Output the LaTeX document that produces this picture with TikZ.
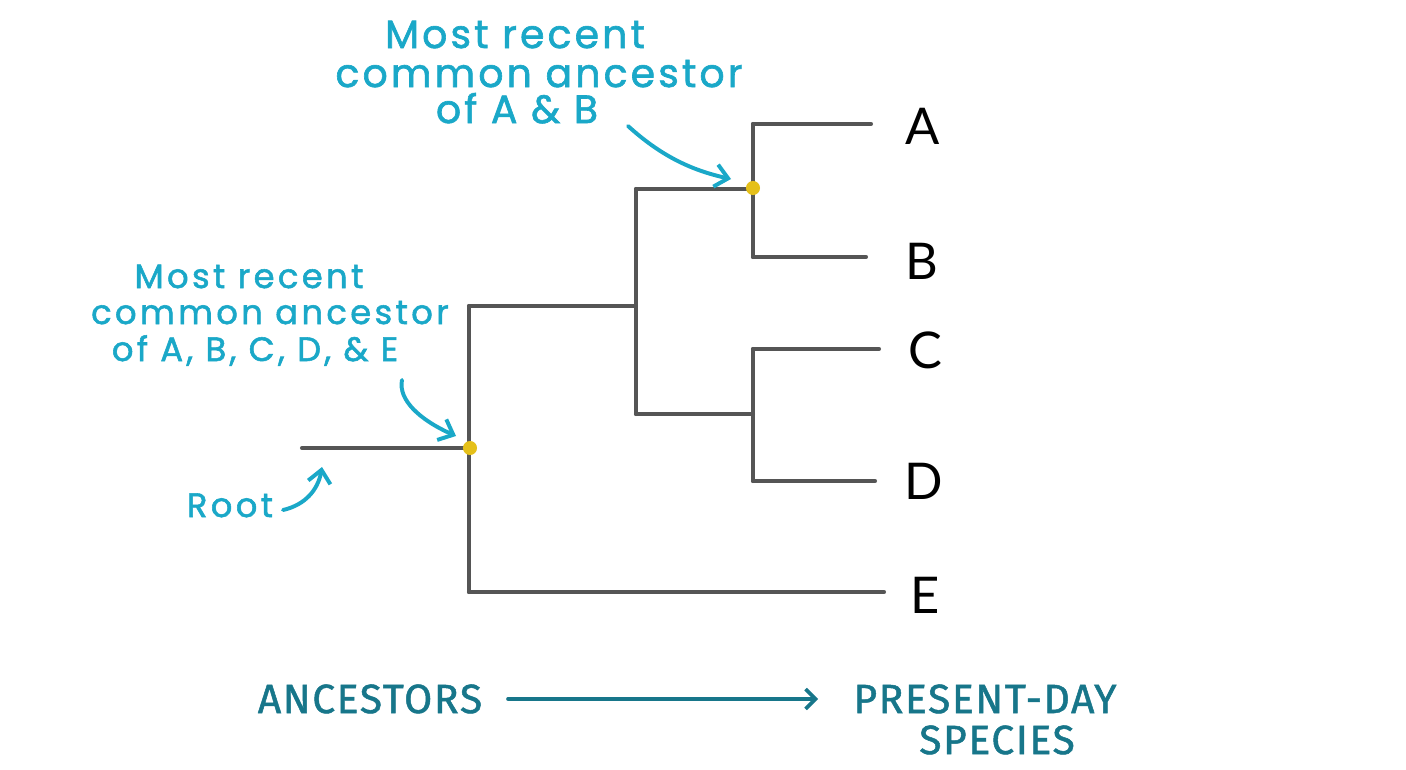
\documentclass[tikz,border=0pt]{standalone}
\usepackage{fontspec}
\setmainfont{Lato}
\newfontfamily\hand[LetterSpace=10,FakeBold=1.6]{Poppins}
\newfontfamily\handb[LetterSpace=8,FakeBold=1.6]{Poppins}
\newfontfamily\capsfont[LetterSpace=4,FakeBold=1.2]{Fira Sans}
\usetikzlibrary{arrows.meta}
\definecolor{tree}{HTML}{555555}
\definecolor{cyanh}{HTML}{1AA8C8}
\definecolor{tealh}{HTML}{17768A}
\definecolor{dotc}{HTML}{E5C01A}
\tikzset{
  branch/.style={draw=tree, line width=2.9pt, line cap=round, line join=miter},
  callout/.style={draw=cyanh, line width=2.8pt, line cap=round, -{Straight Barb[length=9pt,width=16pt,line width=2.8pt]}},
  handline/.style={text=cyanh, anchor=base, inner sep=0pt, text height=0.7em, text depth=0.1em},
  handbig/.style={handline, font=\handb\fontsize{28}{30}\selectfont},
  handsmall/.style={handline, font=\hand\fontsize{24}{26}\selectfont},
  leaf/.style={text=black, font=\fontsize{36}{40}\selectfont, inner sep=0pt},
  axis/.style={text=tealh, font=\capsfont\fontsize{29}{27}\selectfont, anchor=base, inner sep=0pt, text height=0.7em, text depth=0.05em},
  mrca/.style={circle, fill=dotc, inner sep=0pt, minimum size=10pt}
}
\begin{document}
\begin{tikzpicture}[x=0.025cm,y=-0.025cm]
\useasboundingbox[fill=white] (0,0) rectangle (1406,769);
% coordinates
\coordinate (r0) at (302,448);
\coordinate (r1) at (469,448);
\coordinate (n1t) at (469,306);
\coordinate (n1b) at (469,592);
\coordinate (n2m) at (636,306);
\coordinate (n2t) at (636,189);
\coordinate (n2b) at (636,414);
\coordinate (n3m) at (753,189);
\coordinate (n3t) at (753,124);
\coordinate (n3b) at (753,257);
\coordinate (n4m) at (753,414);
\coordinate (n4t) at (753,349);
\coordinate (n4b) at (753,481);
\coordinate (la) at (871,124);
\coordinate (lb) at (866,257);
\coordinate (lc) at (879,349);
\coordinate (ld) at (875,481);
\coordinate (le) at (884,592);
% tree
\draw[branch] (r0) -- (r1);
\draw[branch] (n1t) -- (n1b);
\draw[branch] (n1t) -- (n2m);
\draw[branch] (n2t) -- (n2b);
\draw[branch] (n2t) -- (n3m);
\draw[branch] (n3t) -- (n3b);
\draw[branch] (n3t) -- (la);
\draw[branch] (n3b) -- (lb);
\draw[branch] (n2b) -- (n4m);
\draw[branch] (n4t) -- (n4b);
\draw[branch] (n4t) -- (lc);
\draw[branch] (n4b) -- (ld);
\draw[branch] (n1b) -- (le);
% dots
\node[mrca] (dab) at (753,188) {};
\node[mrca] (dall) at (470,448) {};
% leaf labels
\node[leaf] (A) at (923,126) {A};
\node[leaf] (B) at (922,261) {B};
\node[leaf] (C) at (925,350) {C};
\node[leaf] (D) at (924,481) {D};
\node[leaf] (E) at (925,595) {E};
% callout texts
\node[handbig] (t1a) at (515,48) {Most recent};
\node[handbig] (t1b) at (539,87) {common ancestor};
\node[handbig] (t1c) at (517,123) {of A \& B};
\node[handsmall] (t2a) at (249,288) {Most recent};
\node[handsmall] (t2b) at (270,324) {common ancestor};
\node[handsmall] (t2c) at (255,361) {of A, B, C, D, \& E};
\node[handsmall] (troot) at (230,517) {Root};
% callout arrows
\coordinate (a1s) at (628,126);
\coordinate (a1e) at (731,179);
\coordinate (a2s) at (402,380);
\coordinate (a2e) at (456,436);
\coordinate (a3s) at (283,510);
\coordinate (a3e) at (322,467);
\draw[callout] (a1s) .. controls (660,155) and (690,170) .. (a1e);
\draw[callout] (a2s) .. controls (398,400) and (420,420) .. (a2e);
\draw[callout] (a3s) .. controls (305,505) and (318,490) .. (a3e);
% axis
\node[axis] (anc) at (370,713) {ANCESTORS};
\node[axis] (pres) at (985,713) {PRESENT-DAY};
\node[axis] (spec) at (997,754) {SPECIES};
\coordinate (ax0) at (508,699);
\coordinate (ax1) at (818,699);
\draw[draw=tealh, line width=2.6pt, line cap=round, -{Straight Barb[length=7pt,width=14pt,line width=2.6pt]}] (ax0) -- (ax1);
\end{tikzpicture}
\end{document}
